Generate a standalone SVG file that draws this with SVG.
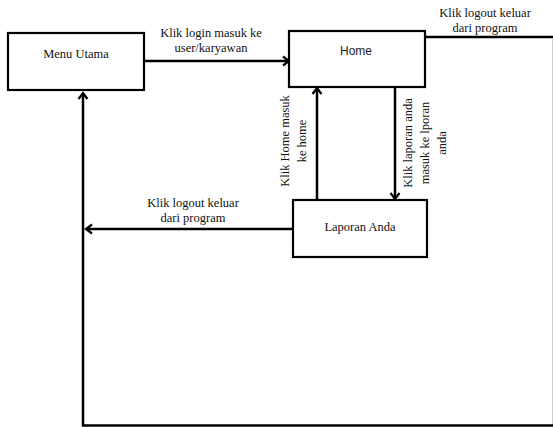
<svg xmlns="http://www.w3.org/2000/svg" width="553" height="427" viewBox="0 0 553 427">
<defs>
<style>
.box{fill:#fff;stroke:#000;stroke-width:2.2}
.ln{fill:none;stroke:#000;stroke-width:2.5}
.t{font-family:"Liberation Serif","Times New Roman",serif;font-size:12.5px;fill:#111;text-anchor:middle}
.s{font-family:"Liberation Sans",Arial,sans-serif;font-size:12px;fill:#222;text-anchor:middle}
</style>
<marker id="ah" markerWidth="12" markerHeight="12" refX="9" refY="6" orient="auto" markerUnits="userSpaceOnUse">
<polyline points="3,1.5 9,6 3,10.5" fill="none" stroke="#000" stroke-width="2.2"/>
</marker>
</defs>
<rect width="553" height="427" fill="#fff"/>
<g id="connectors">
<line class="ln" x1="144" y1="61" x2="289" y2="61" marker-end="url(#ah)"/>
<line class="ln" x1="425" y1="37" x2="553" y2="37"/>
<line x1="552.5" y1="38" x2="552.5" y2="425" stroke="#ccc" stroke-width="1"/>
<path class="ln" d="M553,425.5 H83 V93" marker-end="url(#ah)"/>
<line class="ln" x1="317" y1="200" x2="317" y2="88" marker-end="url(#ah)"/>
<line class="ln" x1="395" y1="87" x2="395" y2="199" marker-end="url(#ah)"/>
<line class="ln" x1="293" y1="229" x2="86" y2="229" marker-end="url(#ah)"/>
<text class="t" x="211" y="37">Klik login masuk ke</text>
<text class="t" x="211" y="52">user/karyawan</text>
<text class="t" x="485" y="17">Klik logout keluar</text>
<text class="t" x="485" y="32">dari program</text>
<text class="t" x="193" y="207">Klik logout keluar</text>
<text class="t" x="193" y="222">dari program</text>
<g transform="translate(285,141) rotate(-90)">
<text class="t" x="0" y="4">Klik Home masuk</text>
<text class="t" x="0" y="21">ke home</text>
</g>
<g transform="translate(408,143) rotate(-90)">
<text class="t" x="0" y="4">Klik laporan anda</text>
<text class="t" x="0" y="21">masuk ke lporan</text>
<text class="t" x="0" y="38">anda</text>
</g>
</g>
<g id="menu-utama">
<rect class="box" x="8" y="33" width="136" height="57"/>
<text class="t" x="76" y="58">Menu Utama</text>
</g>
<g id="home">
<rect class="box" x="289" y="31" width="136" height="56"/>
<text class="s" x="356" y="55">Home</text>
</g>
<g id="laporan-anda">
<rect class="box" x="293" y="200" width="134" height="57"/>
<text class="t" x="360" y="231">Laporan Anda</text>
</g>
</svg>
